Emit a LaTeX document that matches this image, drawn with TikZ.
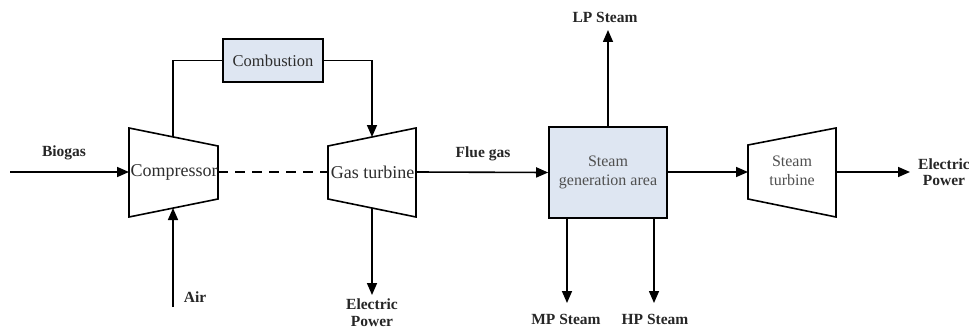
\documentclass[tikz,border=0pt]{standalone}
\usepackage{fontspec}
\setmainfont{Liberation Serif}
\usetikzlibrary{arrows.meta}
\definecolor{boxfill}{RGB}{222,230,242}
\definecolor{txtgray}{RGB}{45,45,45}
\definecolor{txtlight}{RGB}{80,80,80}
\begin{document}
\begin{tikzpicture}[x=1pt,y=-1pt,
  line/.style={line width=1.6pt, line join=miter},
  arr/.style={line, -{Triangle[length=12pt,width=10pt]}},
  unit/.style={draw, line width=1.6pt, fill=boxfill, inner sep=0pt},
  intxt/.style={text=txtgray, font=\fontsize{18}{20}\selectfont, inner sep=0pt},
  sgtxt/.style={text=txtlight, font=\fontsize{16}{19}\selectfont, align=center, inner sep=0pt},
  lbl/.style={text=black!85, font=\bfseries\fontsize{15.5}{16.5}\selectfont, align=center, inner sep=0pt}]
\useasboundingbox (0,0) rectangle (969,329);

% Compressor trapezoid
\coordinate (c1) at (129,128); \coordinate (c2) at (218,146);
\coordinate (c3) at (218,199); \coordinate (c4) at (129,217);
\draw[line] (c1) -- (c2) -- (c3) -- (c4) -- cycle;
\coordinate (cL) at (129,172); \coordinate (cR) at (218,172);
\coordinate (cT) at (173,136.9); \coordinate (cB) at (173,208);
\node[intxt] (comp) at (174,172) {Compressor};

% Gas turbine trapezoid
\coordinate (g1) at (328,146); \coordinate (g2) at (416,128);
\coordinate (g3) at (416,217); \coordinate (g4) at (328,199);
\draw[line] (g1) -- (g2) -- (g3) -- (g4) -- cycle;
\coordinate (gL) at (328,172); \coordinate (gR) at (416,172);
\coordinate (gT) at (372,137); \coordinate (gB) at (372,208);
\node[intxt] (gt) at (372.5,172) {Gas turbine};

% Steam turbine trapezoid
\coordinate (s1) at (748,145); \coordinate (s2) at (836,128);
\coordinate (s3) at (836,217); \coordinate (s4) at (748,199);
\draw[line] (s1) -- (s2) -- (s3) -- (s4) -- cycle;
\coordinate (sL) at (748,172); \coordinate (sR) at (836,172);
\node[sgtxt] (st) at (792,171) {Steam\\turbine};

% Combustion
\node[unit, minimum width=100pt, minimum height=43pt] (comb) at (273,60.5) {};
\node[intxt, font=\fontsize{16.5}{18}\selectfont] (combt) at (comb.center) {Combustion};

% Steam generation area
\node[unit, minimum width=118pt, minimum height=91pt] (sg) at (608,172.5) {};
\node[sgtxt] (sgt) at (608,172) {Steam\\generation area};

% Connectors
\coordinate (bio) at (10,172);
\draw[arr] (bio) -- (cL);
\coordinate (airs) at (173,307);
\draw[arr] (airs) -- (cB);
\draw[line, dashed, dash pattern=on 10pt off 7pt] (cR) -- (gL);
\draw[line] (cT) |- (comb.west);
\draw[arr] (comb.east) -| (gT);
\coordinate (gpe) at (372,295);
\draw[arr] (gB) -- (gpe);
\draw[arr] (gR) -- (sg.west);
\coordinate (lpe) at (608,30);
\draw[arr] (sg.north) -- (lpe);
\coordinate (mpe) at (567,303);
\coordinate (hpe) at (654,303);
\draw[arr] (sg.south -| mpe) -- (mpe);
\draw[arr] (sg.south -| hpe) -- (hpe);
\draw[arr] (sg.east |- sL) -- (sL);
\coordinate (epe) at (910,172);
\draw[arr] (sR) -- (epe);

% Labels
\node[lbl] (lbio) at (64,153) {Biogas};
\node[lbl] (lair) at (195,297) {Air};
\node[lbl, anchor=north] (lep1) at (372,299) {Electric\\Power};
\node[lbl] (lflue) at (483,154) {Flue gas};
\node[lbl] (llp) at (605,17) {LP Steam};
\node[lbl] (lmp) at (566,319) {MP Steam};
\node[lbl] (lhp) at (655,319) {HP Steam};
\node[lbl, anchor=west] (lep2) at (918,172) {Electric\\Power};
\end{tikzpicture}
\end{document}
